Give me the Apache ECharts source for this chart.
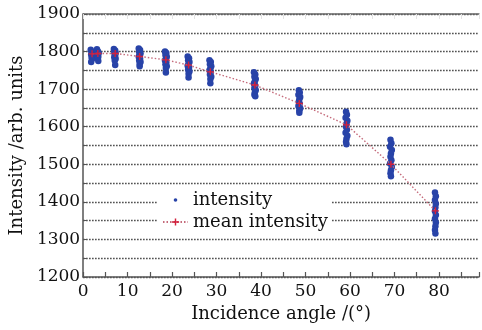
<!DOCTYPE html>
<html>
<head>
<meta charset="utf-8">
<script src="https://cdn.jsdelivr.net/npm/echarts@6/dist/echarts.min.js"></script>
<style>
  html, body { margin: 0; padding: 0; background: #fff; }
  #chart { width: 482px; height: 330px; }
</style>
</head>
<body>
<div id="chart"></div>
<script>
// raw intensity samples: [incidence angle, intensity]
const intensityPoints = [
  [1.7, 1805], [1.9, 1800], [2.1, 1797], [1.8, 1792], [2.2, 1788], [1.9, 1784], [2.0, 1780], [1.8, 1772],
  [3.1, 1806], [3.3, 1801], [3.5, 1796], [3.2, 1791], [3.4, 1786], [3.3, 1781], [3.4, 1775],
  [6.9, 1807], [7.2, 1803], [7.0, 1799], [7.3, 1796], [7.1, 1792], [7.2, 1789], [7.0, 1785], [7.3, 1781], [7.1, 1776], [7.2, 1764],
  [12.5, 1808], [12.8, 1804], [12.6, 1799], [12.9, 1795], [12.7, 1790], [12.5, 1786], [12.8, 1781], [12.6, 1776], [12.9, 1772], [12.7, 1767], [12.7, 1761],
  [18.4, 1800], [18.7, 1796], [18.5, 1791], [18.8, 1786], [18.6, 1781], [18.4, 1776], [18.7, 1771], [18.5, 1766], [18.8, 1761], [18.6, 1756], [18.6, 1744],
  [23.5, 1787], [23.8, 1782], [23.6, 1777], [23.9, 1772], [23.7, 1767], [23.5, 1762], [23.8, 1757], [23.6, 1752], [23.9, 1747], [23.7, 1741], [23.7, 1731],
  [28.4, 1777], [28.7, 1772], [28.5, 1766], [28.8, 1761], [28.6, 1755], [28.4, 1750], [28.7, 1745], [28.5, 1739], [28.8, 1733], [28.6, 1727], [28.6, 1716],
  [38.4, 1745], [38.7, 1739], [38.5, 1733], [38.8, 1727], [38.6, 1721], [38.4, 1715], [38.7, 1709], [38.5, 1703], [38.8, 1697], [38.6, 1691], [38.5, 1685], [38.7, 1681],
  [48.5, 1697], [48.7, 1691], [48.4, 1685], [48.8, 1679], [48.6, 1673], [48.5, 1667], [48.7, 1661], [48.4, 1655], [48.8, 1649], [48.6, 1643], [48.6, 1637],
  [59.1, 1640], [59.3, 1632], [59.0, 1624], [59.4, 1616], [59.2, 1608], [59.1, 1600], [59.3, 1592], [59.0, 1584], [59.4, 1576], [59.2, 1568], [59.1, 1560], [59.2, 1553],
  [69.1, 1565], [69.3, 1556], [69.0, 1547], [69.4, 1538], [69.2, 1529], [69.1, 1520], [69.3, 1511], [69.0, 1502], [69.4, 1493], [69.2, 1484], [69.1, 1476], [69.2, 1468],
  [79.1, 1425], [79.3, 1415], [79.1, 1405], [79.3, 1395], [79.2, 1385], [79.1, 1375], [79.3, 1365], [79.1, 1355], [79.3, 1345], [79.2, 1335], [79.1, 1325], [79.2, 1316]
];

const meanAngles = [2.0, 3.3, 7.2, 12.7, 18.6, 23.7, 28.6, 38.6, 48.6, 59.2, 69.2, 79.2];
const meanValues = [1794, 1795, 1795, 1787, 1778, 1764, 1746, 1711, 1662, 1605, 1500, 1376];

const legendNames = ["intensity", "mean intensity"];

const serif = "DejaVu Serif";
const axisGray = "#555";

let chart = echarts.init(document.getElementById("chart"));

let option = {
  backgroundColor: "#fff",
  animation: false,
  grid: {
    left: 81,
    right: 0,
    top: 14,
    bottom: 53,
  },
  legend: {
    orient: "vertical",
    left: 157,
    top: 189,
    padding: [2, 4, 2, 5],
    itemWidth: 25,
    itemHeight: 9,
    itemGap: 4,
    backgroundColor: "#fff",
    textStyle: {
      color: "#111",
      fontFamily: serif,
      fontSize: 18,
    },
    data: [
      {
        name: legendNames[0],
        // small dot, padded with empty moveTo points so it stays small
        icon: "path://M0 0M10 10M3 5a2 2 0 1 0 4 0a2 2 0 1 0 -4 0z",
      },
      { name: legendNames[1] },
    ],
  },
  xAxis: [
    {
      type: "value",
      min: 0,
      max: 89,
      interval: 5,
      axisLine: { show: true, lineStyle: { color: axisGray, width: 1.5 } },
      axisTick: { show: true, inside: true, length: 5, lineStyle: { color: axisGray, width: 1.2 } },
      splitLine: { show: false },
      axisLabel: {
        color: "#111",
        fontFamily: serif,
        fontSize: 17,
        margin: 6,
        formatter: function (v) {
          return v % 10 === 0 ? String(v) : "";
        },
      },
      name: "Incidence angle /(°)",
      nameLocation: "middle",
      nameGap: 27,
      nameTextStyle: { color: "#111", fontFamily: serif, fontSize: 18 },
    },
    {
      type: "value",
      position: "top",
      min: 0,
      max: 89,
      interval: 5,
      axisLine: { show: true, lineStyle: { color: "#666", width: 1.5 } },
      axisTick: { show: true, inside: true, length: 5, lineStyle: { color: "#e4e4e4" } },
      axisLabel: { show: false },
      splitLine: { show: false },
    },
  ],
  yAxis: {
    type: "value",
    min: 1200,
    max: 1900,
    interval: 50,
    axisLine: { show: true, lineStyle: { color: axisGray, width: 1.5 } },
    axisTick: { show: true, inside: true, length: 4, lineStyle: { color: axisGray } },
    splitLine: {
      show: true,
      lineStyle: { color: "#333", width: 1.4, type: [1.4, 1.6] },
    },
    axisLabel: {
      color: "#111",
      fontFamily: serif,
      fontSize: 17,
      margin: 3,
      formatter: function (v) {
        return v % 100 === 0 ? String(v) : "";
      },
    },
    name: "Intensity /arb. units",
    nameLocation: "middle",
    nameGap: 54,
    nameTextStyle: { color: "#111", fontFamily: serif, fontSize: 18 },
  },
  series: [
    {
      name: legendNames[0],
      type: "scatter",
      symbol: "circle",
      symbolSize: 6.5,
      itemStyle: { color: "#2843a8", opacity: 1 },
      data: intensityPoints,
      z: 2,
    },
    {
      name: legendNames[1],
      type: "line",
      symbol: "path://M4 0h2v10h-2zM0 4h10v2h-10z",
      symbolSize: 7,
      showAllSymbol: true,
      itemStyle: { color: "#d2203c" },
      lineStyle: { color: "#c46a7a", width: 1.4, type: [1.5, 2] },
      data: meanAngles.map((a, i) => [a, meanValues[i]]),
      z: 3,
    },
  ],
};

chart.setOption(option);
</script>
</body>
</html>
